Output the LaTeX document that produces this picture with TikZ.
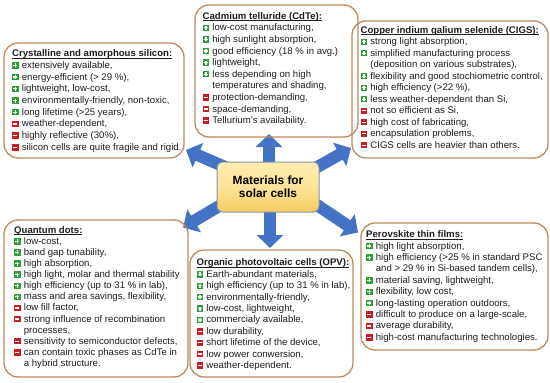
\documentclass[tikz,border=0pt]{standalone}
\usepackage{fontspec}
\setmainfont{Liberation Sans}
\usetikzlibrary{arrows.meta,backgrounds}
\definecolor{boxc}{RGB}{192,138,92}
\definecolor{arrc}{RGB}{68,114,196}
\definecolor{txtc}{RGB}{30,30,30}
\definecolor{pgreen}{RGB}{46,158,58}
\definecolor{mred}{RGB}{204,28,36}
\definecolor{ctrtop}{RGB}{255,237,176}
\definecolor{ctrbot}{RGB}{247,204,96}
\definecolor{ctrline}{RGB}{132,150,176}
\newcommand\pls{\makebox[9.7pt][l]{\textcolor{pgreen}{\rule[-0.2pt]{6.4pt}{6.4pt}}\kern-6.4pt\textcolor{white}{\kern1.2pt\rule[2.35pt]{4pt}{1.3pt}\kern-2.65pt\rule[1pt]{1.3pt}{4pt}}}}
\newcommand\mns{\makebox[9.7pt][l]{\textcolor{mred}{\rule[-0.2pt]{6.4pt}{6.4pt}}\kern-6.4pt\textcolor{white}{\kern1.2pt\rule[2.35pt]{4pt}{1.3pt}}}}
\newcommand\hd[1]{\rule{0pt}{8pt}\sbox0{\bfseries #1}\rlap{\rule[-1.6pt]{\wd0}{0.75pt}}\usebox0}
\newcommand\ind{\hspace*{9.7pt}}
\begin{document}
\begin{tikzpicture}[x=1pt,y=-1pt,
  box/.style={draw=boxc, line width=1.3pt, rounded corners=14pt, inner sep=0pt},
  txt/.style={anchor=north west, inner sep=0pt, align=left, text=txtc, font=\fontsize{9.6}{#1}\selectfont},
  blk/.style={draw=arrc, line width=12pt, -{Triangle[length=13pt,width=26pt]}},
  ctrbox/.style={draw=ctrline, line width=1pt, rounded corners=6pt, top color=ctrtop, bottom color=ctrbot, middle color=ctrtop!70!ctrbot, inner sep=0pt, align=center, text=black, font=\fontsize{11.9}{13.3}\selectfont\bfseries}
 ]
\useasboundingbox (0,0) rectangle (550,383);

% boxes
\node[box, minimum width=180pt, minimum height=115pt] (si) at (94,100.5) {};
\node[box, minimum width=163pt, minimum height=132pt] (cdte) at (276.5,71) {};
\node[box, minimum width=196pt, minimum height=137pt] (cigs) at (450,89.5) {};
\node[box, minimum width=184pt, minimum height=157pt] (qd) at (96,298.5) {};
\node[box, minimum width=163pt, minimum height=127pt] (opv) at (271.5,313.5) {};
\node[box, minimum width=187pt, minimum height=127pt] (per) at (454.5,286.5) {};

% texts
\node[txt=11.7] (sit) at (12,48.5) {\hd{Crystalline and amorphous silicon:}\\
\pls extensively available,\\
\pls energy-efficient (> 29 \%),\\
\pls lightweight, low-cost,\\
\pls environmentally-friendly, non-toxic,\\
\pls long lifetime (>25 years),\\
\mns weather-dependent,\\
\mns highly reflective (30\%),\\
\mns silicon cells are quite fragile and rigid.};

\node[txt=11.6] (cdtet) at (202.5,11) {\hd{Cadmium telluride (CdTe):}\\
\pls low-cost manufacturing,\\
\pls high sunlight absorption,\\
\pls good efficiency (18 \% in avg.)\\
\pls lightweight,\\
\pls less depending on high\\
\ind temperatures and shading,\\
\mns protection-demanding,\\
\mns space-demanding,\\
\mns Tellurium’s availability.};

\node[txt=11.5] (cigst) at (360.5,25) {\hd{Copper indium galium selenide (CIGS):}\\
\pls strong light absorption,\\
\pls simplified manufacturing process\\
\ind (deposition on various substrates),\\
\pls flexibility and good stochiometric control,\\
\pls high efficiency (>22 \%),\\
\pls less weather-dependent than Si,\\
\mns not so efficient as Si,\\
\mns high cost of fabricating,\\
\mns encapsulation problems,\\
\mns CIGS cells are heavier than others.};

\node[txt=11.1] (qdt) at (14,225) {\hd{Quantum dots:}\\
\pls low-cost,\\
\pls band gap tunability,\\
\pls high absorption,\\
\pls high light, molar and thermal stability\\
\pls high efficiency (up to 31 \% in lab),\\
\pls mass and area savings, flexibility,\\
\mns low fill factor,\\
\mns strong influence of recombination\\
\ind processes,\\
\mns sensitivity to semiconductor defects,\\
\mns can contain toxic phases as CdTe in\\
\ind a hybrid structure.};

\node[txt=11.4] (opvt) at (196.5,257.7) {\hd{Organic photovoltaic cells (OPV):}\\
\pls Earth-abundant materials,\\
\pls high efficiency (up to 31 \% in lab),\\
\pls environmentally-friendly,\\
\pls low-cost, lightweight,\\
\pls commercialy available,\\
\mns low durability,\\
\mns short lifetime of the device,\\
\mns low power conwersion,\\
\mns weather-dependent.};

\node[txt=11.4] (pert) at (366,229.5) {\hd{Perovskite thin films:}\\
\pls high light absorption,\\
\pls high efficiency (>25 \% in standard PSC\\
\ind and > 29 \% in Si-based tandem cells),\\
\pls material saving, lightweight,\\
\pls flexibility, low cost,\\
\pls long-lasting operation outdoors,\\
\mns difficult to produce on a large-scale,\\
\mns average durability,\\
\mns high-cost manufacturing technologies.};

% centre
\node[ctrbox, minimum width=102pt, minimum height=50pt] (ctr) at (268,187) {Materials for\\solar cells};

% arrow ends
\coordinate (tU) at (269,134);
\coordinate (tD) at (270,248);
\coordinate (tUL) at (186,150);
\coordinate (tUR) at (351,148);
\coordinate (tLL) at (183,227.5);
\coordinate (tLR) at (358,232.5);
\coordinate (sUL) at (226.3,167.5);
\coordinate (sUR) at (312,170);
\coordinate (sLL) at (226,202);
\coordinate (sLR) at (308.6,199.4);

\begin{pgfonlayer}{background}
\fill[white] (0,0) rectangle (550,383);
\draw[blk] (ctr.center -| tU) -- (tU);
\draw[blk] (ctr.center -| tD) -- (tD);
\draw[blk] (sUL) -- (tUL);
\draw[blk] (sUR) -- (tUR);
\draw[blk] (sLL) -- (tLL);
\draw[blk] (sLR) -- (tLR);
\end{pgfonlayer}
\end{tikzpicture}
\end{document}
